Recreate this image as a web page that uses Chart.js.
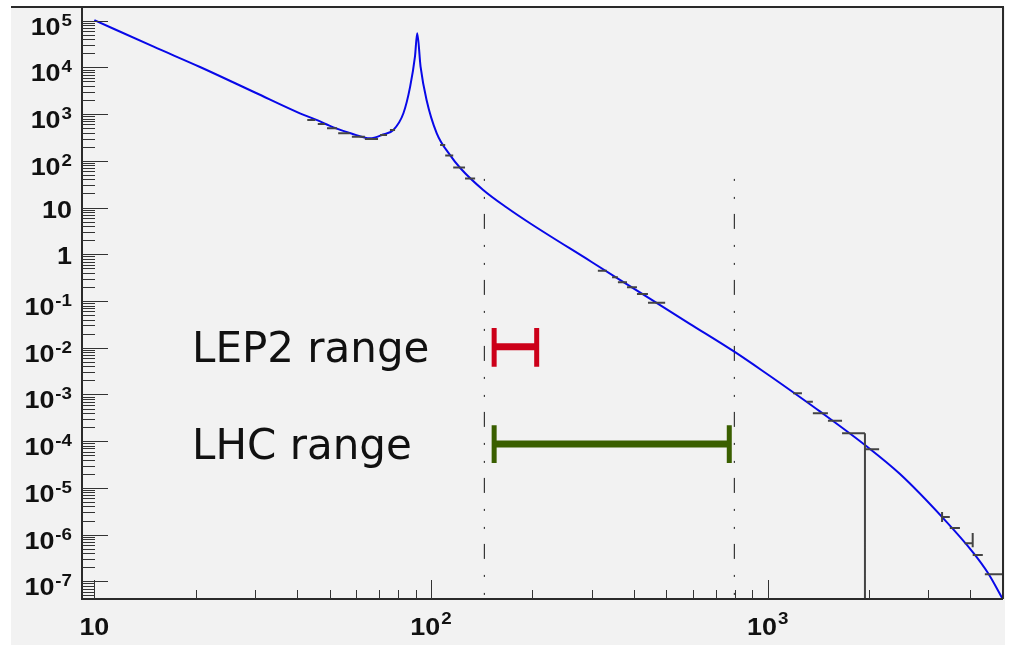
<!DOCTYPE html>
<html>
<head>
<meta charset="utf-8">
<script src="https://cdn.jsdelivr.net/npm/chart.js@4.4.1/dist/chart.umd.min.js"></script>
<style>
    html, body { margin: 0; padding: 0; background: #fff; }
    #wrap { width: 1009px; height: 655px; }
</style>
</head>
<body>
<div id="wrap"><canvas id="xsecChart" width="1009" height="655"></canvas></div>
<script>
// mass (GeV) and cross-section
var curveMass = [10, 15, 20.6, 30, 40.8, 45.7, 51.3, 58, 65.9, 72, 77.3, 82.8, 86.7, 89.6, 91.0, 93.1, 97.0, 104, 113.8, 122.3,
    142.9, 168.2, 196.8, 300, 446.7, 587, 796, 1016, 1088, 1429, 1945, 2472, 3324, 4083, 4512, 5000];
var curveXsec = [1.03e5, 2.77e4, 1.02e4, 2.9e3, 1.04e3, 750, 520, 385, 304, 365, 458, 1042, 3864, 1.69e4, 5.37e4, 1.04e4, 2010, 389, 134, 69.3,
    23.8, 9.89, 4.61, 0.684, 0.112, 0.0325, 8.22e-3, 2.48e-3, 1.76e-3, 4.34e-4, 8.28e-5, 1.98e-5, 2.23e-6, 4.08e-7, 1.51e-7, 4.1e-8];

// histogram bins that show beside the curve
var histLow = [42.9, 46.1, 49.1, 53.0, 58.2, 63.6, 70.6, 75.5, 106.4, 110.2, 116.4, 126.2,
    313, 345, 359, 382, 409, 441, 1189, 1306, 1362, 1510, 1663, 1945, 3296, 3475, 3846, 4064, 4416];
var histHigh = [45.3, 48.4, 52.6, 57.4, 63.6, 69.6, 74.0, 78.2, 110.2, 116.4, 126.2, 135.2,
    333, 359, 382, 409, 441, 496, 1264, 1362, 1510, 1663, 1945, 2143, 3475, 3724, 4064, 4355, 5000];
var histValue = [750, 615, 498, 389, 329, 294, 358, 458, 219, 130, 72.1, 41.9,
    0.446, 0.322, 0.252, 0.197, 0.141, 0.092, 1.06e-3, 7.0e-4, 3.95e-4, 2.74e-4, 1.48e-4, 6.7e-5, 2.38e-6, 1.38e-6, 6.5e-7, 3.66e-7, 1.42e-7];

// error bars on a few high-mass bins
var errMass = [1945, 3296, 4064];
var errLow = [1e-9, 1.86e-6, 5.4e-7];
var errHigh = [1.48e-4, 3.05e-6, 1.08e-6];

// dash-dot markers
var markerMass = [144, 796];
var markerTop = 41;

// LEP2 / LHC ranges
var rangeNames = ['LEP2 range', 'LHC range'];
var rangeFrom = [154, 154];
var rangeTo = [206, 769];
var rangeLevel = [0.0105, 8.7e-5];
var capLow = [0.00392, 3.43e-5];
var capHigh = [0.0264, 2.2e-4];
var rangeColors = ['#cc0019', '#3a5f00'];

// axes
var xMin = 9.19, xMax = 5000;
var yMin = 4.19e-8, yMax = 1.96e5;
var xMajor = [10, 100, 1000];
var xMajorExp = [1, 2, 3];
var yMajorExp = [5, 4, 3, 2, 1, 0, -1, -2, -3, -4, -5, -6, -7];

var BASE_FONT = 'bold 23px "Liberation Sans", Arial, sans-serif';
var EXP_FONT = 'bold 16px "Liberation Sans", Arial, sans-serif';
var STRETCH = 1.17;

function powerParts(e) {
    if (e === 0) return ['1', ''];
    if (e === 1) return ['10', ''];
    return ['10', String(e)];
}

function drawPower(ctx, parts, x, y, align, expRise) {
    ctx.font = BASE_FONT;
    var wb = ctx.measureText(parts[0]).width * STRETCH;
    ctx.font = EXP_FONT;
    var we = parts[1] ? ctx.measureText(parts[1]).width * STRETCH + 1 : 0;
    var total = wb + we;
    var left = align === 'right' ? x - total : x - total / 2;
    ctx.textAlign = 'left';
    ctx.textBaseline = 'alphabetic';
    ctx.save();
    ctx.translate(left, y);
    ctx.scale(STRETCH, 1);
    ctx.font = BASE_FONT;
    ctx.fillText(parts[0], 0, 0);
    if (parts[1]) {
        ctx.font = EXP_FONT;
        ctx.fillText(parts[1], (wb + 1) / STRETCH, -expRise);
    }
    ctx.restore();
}

var framePlugin = {
    id: 'rootFrame',
    beforeDraw: function(chart) {
        var ctx = chart.ctx;
        ctx.save();
        ctx.fillStyle = '#ffffff';
        ctx.fillRect(0, 0, chart.width, chart.height);
        ctx.fillStyle = '#f2f2f2';
        ctx.fillRect(11, 7, 994, 638);
        ctx.restore();
    },
    afterDatasetsDraw: function(chart) {
        var ctx = chart.ctx;
        var area = chart.chartArea;
        var xs = chart.scales.x, ys = chart.scales.y;
        ctx.save();

        // frame and axes
        ctx.strokeStyle = '#2a2a2a';
        ctx.lineWidth = 2;
        ctx.beginPath();
        ctx.moveTo(11, area.top);
        ctx.lineTo(area.right, area.top);
        ctx.lineTo(area.right, area.bottom);
        ctx.moveTo(area.left, area.top);
        ctx.lineTo(area.left, area.bottom);
        ctx.lineTo(area.right, area.bottom);
        ctx.stroke();

        // y ticks
        ctx.lineWidth = 1;
        ctx.strokeStyle = '#333';
        ctx.beginPath();
        for (var e = -8; e <= 5; e++) {
            for (var m = 1; m <= 9; m++) {
                var v = m * Math.pow(10, e);
                if (v < yMin || v > yMax) continue;
                var py = Math.round(ys.getPixelForValue(v)) + 0.5;
                ctx.moveTo(area.left, py);
                ctx.lineTo(area.left + (m === 1 ? 26 : 13), py);
            }
        }
        // x ticks
        for (var ex = 0; ex <= 3; ex++) {
            for (var mx = 1; mx <= 9; mx++) {
                var vx = mx * Math.pow(10, ex);
                if (vx < xMin || vx > xMax) continue;
                var px = Math.round(xs.getPixelForValue(vx)) + 0.5;
                ctx.moveTo(px, area.bottom);
                ctx.lineTo(px, area.bottom - (mx === 1 ? 19 : 9));
            }
        }
        ctx.stroke();

        // tick labels
        ctx.fillStyle = '#111';
        yMajorExp.forEach(function(e) {
            var py = ys.getPixelForValue(Math.pow(10, e));
            var parts = powerParts(e);
            if (parts[1]) {
                drawPower(ctx, parts, 72, py + 14, 'right', 9);
            } else {
                drawPower(ctx, parts, 72, py + 10, 'right', 0);
            }
        });
        xMajor.forEach(function(v, i) {
            var px = xs.getPixelForValue(v);
            drawPower(ctx, powerParts(xMajorExp[i]), px, 635, 'center', 11);
        });

        // range labels
        ctx.font = '42px "DejaVu Sans", sans-serif';
        ctx.textAlign = 'left';
        ctx.textBaseline = 'alphabetic';
        rangeNames.forEach(function(name, i) {
            var py = ys.getPixelForValue(rangeLevel[i]);
            ctx.fillText(name, 192, py + 15);
        });
        ctx.restore();
    }
};

var datasets = [];

// histogram bars
var histPoints = [];
histLow.forEach(function(lo, i) {
    histPoints.push({x: lo, y: histValue[i]});
    histPoints.push({x: histHigh[i], y: histValue[i]});
    histPoints.push({x: histHigh[i], y: null});
});
errMass.forEach(function(m, i) {
    histPoints.push({x: m, y: errLow[i]});
    histPoints.push({x: m, y: errHigh[i]});
    histPoints.push({x: m, y: null});
});
datasets.push({
    data: histPoints,
    borderColor: '#444',
    borderWidth: 2,
    pointRadius: 0,
    spanGaps: false,
    order: 1
});

// ranges
rangeNames.forEach(function(name, i) {
    datasets.push({
        data: [{x: rangeFrom[i], y: rangeLevel[i]}, {x: rangeTo[i], y: rangeLevel[i]}],
        borderColor: rangeColors[i],
        borderWidth: 7,
        pointRadius: 0,
        order: 0
    });
    datasets.push({
        data: [
            {x: rangeFrom[i], y: capLow[i]}, {x: rangeFrom[i], y: capHigh[i]}, {x: rangeFrom[i], y: null},
            {x: rangeTo[i], y: capLow[i]}, {x: rangeTo[i], y: capHigh[i]}
        ],
        borderColor: rangeColors[i],
        borderWidth: 5,
        pointRadius: 0,
        spanGaps: false,
        order: 0
    });
});

// blue curve
datasets.push({
    data: curveMass.map(function(m, i) { return {x: m, y: curveXsec[i]}; }),
    borderColor: '#0808e8',
    borderWidth: 2,
    pointRadius: 0,
    cubicInterpolationMode: 'monotone',
    order: 2
});

// dash-dot markers
markerMass.forEach(function(m) {
    datasets.push({
        data: [{x: m, y: markerTop}, {x: m, y: 1e-9}],
        borderColor: '#111',
        borderWidth: 1,
        borderDash: [2, 16, 2, 15, 15, 16],
        pointRadius: 0,
        order: 3
    });
});

var ctx = document.getElementById('xsecChart').getContext('2d');
var xsecChart = new Chart(ctx, {
    type: 'line',
    data: { datasets: datasets },
    options: {
        responsive: false,
        animation: false,
        devicePixelRatio: 1,
        events: [],
        layout: { padding: { left: 82, top: 7, right: 6, bottom: 56 } },
        plugins: { legend: { display: false }, tooltip: { enabled: false } },
        scales: {
            x: { type: 'logarithmic', min: xMin, max: xMax, display: false },
            y: { type: 'logarithmic', min: yMin, max: yMax, display: false }
        }
    },
    plugins: [framePlugin]
});
</script>
</body>
</html>
